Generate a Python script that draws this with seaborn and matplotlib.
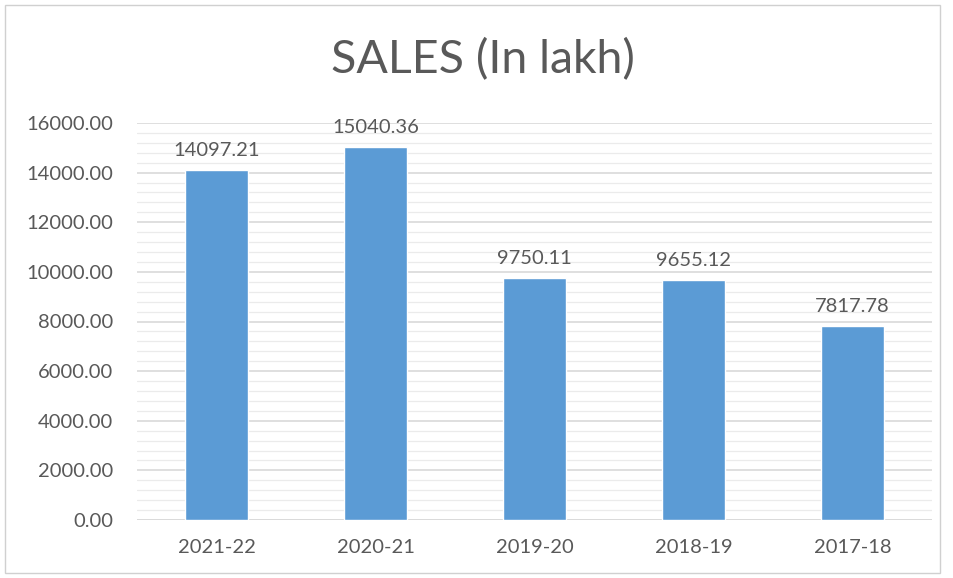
import matplotlib
matplotlib.use("Agg")
import matplotlib.pyplot as plt
from matplotlib.patches import Rectangle
from matplotlib.ticker import MultipleLocator, StrMethodFormatter
import pandas as pd
import seaborn as sns

# data
years = ["2021-22", "2020-21", "2019-20", "2018-19", "2017-18"]
sales = [14097.21, 15040.36, 9750.11, 9655.12, 7817.78]

df = pd.DataFrame({"year": years, "sales": sales})

sns.set_style("white")
plt.rcParams["font.family"] = ["Lato", "DejaVu Sans"]

text_col = "#595959"
W, H = 954, 578
fig = plt.figure(figsize=(W / 100, H / 100), dpi=100)
ax = fig.add_axes([137 / W, 1 - 520 / H, (932 - 137) / W, (520 - 123) / H])

sns.barplot(data=df, x="year", y="sales", color="#5B9BD5", width=0.4,
            saturation=1, ax=ax, zorder=3)

ax.set_ylim(0, 16000)
ax.set_xlim(-0.5, len(years) - 0.5)
ax.yaxis.set_major_locator(MultipleLocator(2000))
ax.yaxis.set_minor_locator(MultipleLocator(400))
ax.yaxis.set_major_formatter(StrMethodFormatter("{x:.2f}"))
ax.grid(axis="y", which="major", color="#D9D9D9", linewidth=1.2, zorder=0)
ax.grid(axis="y", which="minor", color="#EBEBEB", linewidth=0.9, zorder=0)
ax.set_axisbelow(True)
for s in ax.spines.values():
    s.set_visible(False)
ax.axhline(0, color="#D9D9D9", linewidth=1.2, zorder=2)

ax.tick_params(axis="y", which="both", length=0, pad=17, labelsize=14.5, labelcolor=text_col)
ax.tick_params(axis="x", length=0, pad=14, labelsize=14.5, labelcolor=text_col)
ax.set_xlabel("")
ax.set_ylabel("")

ax.bar_label(ax.containers[0], fmt="%.2f", padding=8, fontsize=14.5, color=text_col)

fig.text(483 / W, 1 - 60 / H, "SALES (In lakh)", ha="center", va="center",
         fontsize=33.5, color=text_col)

fig.patches.append(Rectangle((5 / W, 1 - 573 / H), (940 - 5) / W, (573 - 5) / H,
                             transform=fig.transFigure, fill=False,
                             edgecolor="#D0D0D0", linewidth=1))

fig.savefig("out.png", dpi=100, facecolor="white")
